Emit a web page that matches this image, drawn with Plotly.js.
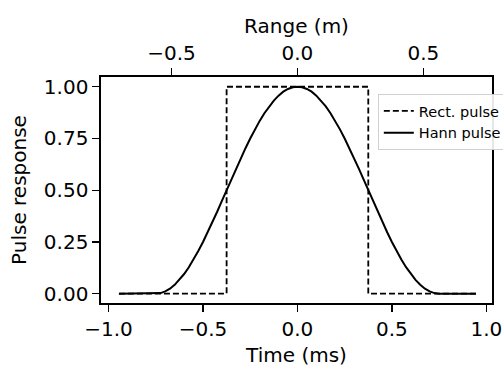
<!DOCTYPE html>
<html>
<head>
<meta charset="utf-8">
<script src="https://cdn.plot.ly/plotly-3.0.1.min.js"></script>
<style>html,body{margin:0;padding:0;background:#fff;}#chart{width:503px;height:368px;}</style>
</head>
<body>
<div id="chart"></div>
<script>
// Rectangular pulse (time in ms)
const rectTime = [-0.945, -0.375, -0.375, 0.375, 0.375, 0.945];
const rectResp = [0, 0, 1, 1, 0, 0];

// Hann pulse (time in ms)
const hannTime = [-0.945, -0.75, -0.725, -0.7, -0.675, -0.65, -0.625, -0.6, -0.575, -0.55, -0.525, -0.5,
  -0.475, -0.45, -0.425, -0.4, -0.375, -0.35, -0.325, -0.3, -0.275, -0.25, -0.225, -0.2, -0.175, -0.15,
  -0.125, -0.1, -0.075, -0.05, -0.025, 0, 0.025, 0.05, 0.075, 0.1, 0.125, 0.15, 0.175, 0.2, 0.225, 0.25,
  0.275, 0.3, 0.325, 0.35, 0.375, 0.4, 0.425, 0.45, 0.475, 0.5, 0.525, 0.55, 0.575, 0.6, 0.625, 0.65,
  0.675, 0.7, 0.725, 0.75, 0.945];
const hannResp = [0, 0, 0.003, 0.011, 0.024, 0.043, 0.067, 0.095, 0.128, 0.165, 0.206, 0.25,
  0.297, 0.345, 0.396, 0.448, 0.5, 0.552, 0.604, 0.655, 0.703, 0.75, 0.794, 0.835, 0.872, 0.905,
  0.933, 0.957, 0.976, 0.989, 0.997, 1, 0.997, 0.989, 0.976, 0.957, 0.933, 0.905, 0.872, 0.835, 0.794, 0.75,
  0.703, 0.655, 0.604, 0.552, 0.5, 0.448, 0.396, 0.345, 0.297, 0.25, 0.206, 0.165, 0.128, 0.095, 0.067, 0.043,
  0.024, 0.011, 0.003, 0, 0];

// Tick labels
const timeTicks = [-1.0, -0.5, 0.0, 0.5, 1.0];
const timeTickText = ["\u22121.0", "\u22120.5", "0.0", "0.5", "1.0"];
const rangeTicks = [-0.5, 0.0, 0.5];
const rangeTickText = ["\u22120.5", "0.0", "0.5"];
const respTicks = [0, 0.25, 0.5, 0.75, 1.0];
const respTickText = ["0.00", "0.25", "0.50", "0.75", "1.00"];

const timeRange = [-1.04, 1.03];
const rangeScale = 0.75; // m per ms (c/2 with c = 1500 m/s)

const font = "DejaVu Sans, sans-serif";
const fs = 20;

const traces = [
  {x: rectTime, y: rectResp, type: 'scatter', mode: 'lines', name: 'Rect. pulse',
   line: {color: '#000', width: 1.8, dash: '6px,3px'}},
  {x: hannTime, y: hannResp, type: 'scatter', mode: 'lines', name: 'Hann pulse',
   line: {color: '#000', width: 2}},
  // same rectangular pulse expressed in range (m) so the top axis is drawn
  {x: rectTime.map(t => t * rangeScale), y: rectResp, xaxis: 'x2', type: 'scatter', mode: 'lines',
   line: {color: 'rgba(0,0,0,0)', width: 0}, showlegend: false, hoverinfo: 'skip'}
];

const axisCommon = {
  showgrid: false, zeroline: false, showline: true, linecolor: '#000', linewidth: 1.6,
  ticks: 'outside', ticklen: 7, tickwidth: 1.4, tickcolor: '#000',
  tickfont: {family: font, size: fs, color: '#000'}, automargin: false
};

const layout = {
  width: 503, height: 368,
  margin: {l: 101, r: 11, t: 77, b: 65, autoexpand: false},
  paper_bgcolor: '#fff', plot_bgcolor: '#fff',
  font: {family: font, size: fs, color: '#000'},
  showlegend: true,
  legend: {x: 0.708, y: 0.925, xanchor: 'left', yanchor: 'top',
    bgcolor: 'rgba(255,255,255,0.9)', bordercolor: '#d0d0d0', borderwidth: 1,
    font: {family: font, size: 14.5, color: '#000'}, tracegroupgap: 0, itemwidth: 30},
  xaxis: Object.assign({}, axisCommon, {
    range: timeRange, tickvals: timeTicks, ticktext: timeTickText,
    title: {text: 'Time (ms)', font: {family: font, size: fs}, standoff: 8}
  }),
  xaxis2: Object.assign({}, axisCommon, {
    overlaying: 'x', side: 'top', anchor: 'y',
    range: [timeRange[0] * rangeScale, timeRange[1] * rangeScale],
    tickvals: rangeTicks, ticktext: rangeTickText,
    title: {text: 'Range (m)', font: {family: font, size: fs}, standoff: 2}
  }),
  yaxis: Object.assign({}, axisCommon, {
    range: [-0.045, 1.047], tickvals: respTicks, ticktext: respTickText, mirror: true,
    title: {text: 'Pulse response', font: {family: font, size: fs}, standoff: 12}
  })
};

Plotly.newPlot('chart', traces, layout, {staticPlot: true, displayModeBar: false});
</script>
</body>
</html>
